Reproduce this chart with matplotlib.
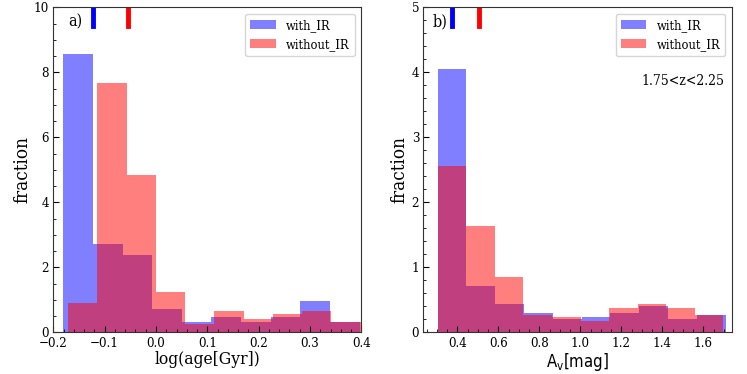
import numpy as np
import matplotlib
matplotlib.use('Agg')
import matplotlib.pyplot as plt
from matplotlib.ticker import AutoMinorLocator, MultipleLocator

# Histogram bins and densities
age_edges_ir = [-0.1805, -0.1228, -0.0651, -0.0074, 0.0503, 0.1080,
                0.1657, 0.2234, 0.2811, 0.3388, 0.3965]
age_dens_ir = [8.58, 2.71, 2.38, 0.73, 0.32, 0.48, 0.32, 0.48, 0.98, 0.32]
age_edges_noir = [-0.1714, -0.1144, -0.0574, -0.0004, 0.0566, 0.1136,
                  0.1706, 0.2276, 0.2846, 0.3416, 0.3986]
age_dens_noir = [0.90, 7.68, 4.84, 1.24, 0.25, 0.66, 0.40, 0.56, 0.66, 0.32]

av_edges_ir = [0.304, 0.4445, 0.585, 0.7255, 0.866, 1.0065, 1.147,
               1.2875, 1.428, 1.5685, 1.709]
av_dens_ir = [4.06, 0.71, 0.44, 0.30, 0.21, 0.24, 0.30, 0.41, 0.20, 0.27]
av_edges_noir = [0.304, 0.4434, 0.5828, 0.7222, 0.8616, 1.001, 1.1404,
                 1.2798, 1.4192, 1.5586, 1.698]
av_dens_noir = [2.56, 1.64, 0.85, 0.27, 0.24, 0.17, 0.38, 0.44, 0.38, 0.27]

# median markers at the top of each panel
age_median = [-0.122, -0.0555]
av_median = [0.3756, 0.504]

labels = ['with_IR', 'without_IR']
z_text = '1.75<z<2.25'

plt.rcParams['font.family'] = 'DejaVu Serif'
plt.rcParams['font.stretch'] = 'condensed'
plt.rcParams['mathtext.fontset'] = 'dejavusans'

fig = plt.figure(figsize=(7.47, 3.74), dpi=100)
ax1 = fig.add_axes([0.0714, 0.111, 0.4123, 0.869])
ax2 = fig.add_axes([0.5667, 0.111, 0.4128, 0.869])


def draw_panel(ax, e1, d1, e2, d2, med, ymax):
    ax.hist(e1[:-1], bins=e1, weights=d1, color='blue', alpha=0.5, label=labels[0])
    ax.hist(e2[:-1], bins=e2, weights=d2, color='red', alpha=0.5, label=labels[1])
    ax.axvline(med[0], ymin=0.943, ymax=1, color='blue', lw=3.5)
    ax.axvline(med[1], ymin=0.943, ymax=1, color='red', lw=3.5)
    ax.set_ylim(0, ymax)
    ax.xaxis.set_minor_locator(AutoMinorLocator())
    ax.yaxis.set_minor_locator(AutoMinorLocator())
    ax.tick_params(which='both', direction='in', labelsize=9.5, pad=3)
    ax.tick_params(which='major', length=4)
    ax.tick_params(which='minor', length=2)
    for s in ax.spines.values():
        s.set_color('#333333')
    ax.set_ylabel('fraction', fontsize=13.5, labelpad=2)
    ax.legend(loc='upper right', fontsize=9.2, framealpha=0.8)


draw_panel(ax1, age_edges_ir, age_dens_ir, age_edges_noir, age_dens_noir, age_median, 10)
ax1.set_xlim(-0.2, 0.4)
ax1.set_xlabel('log(age[Gyr])', fontsize=12.5, labelpad=1)
ax1.text(0.048, 0.955, 'a)', transform=ax1.transAxes, fontsize=11.5, va='center')

draw_panel(ax2, av_edges_ir, av_dens_ir, av_edges_noir, av_dens_noir, av_median, 5)
ax2.set_xlim(0.234, 1.7385)
ax2.xaxis.set_major_locator(MultipleLocator(0.2))
ax2.xaxis.set_minor_locator(AutoMinorLocator())
ax2.set_xlabel(r'$\mathrm{A_v[mag]}$', fontsize=12, labelpad=1)
ax2.text(0.03, 0.955, 'b)', transform=ax2.transAxes, fontsize=11.5, va='center')
ax2.text(0.976, 0.774, z_text, transform=ax2.transAxes, fontsize=10,
         ha='right', va='center')

fig.savefig('out.png', dpi=100)
